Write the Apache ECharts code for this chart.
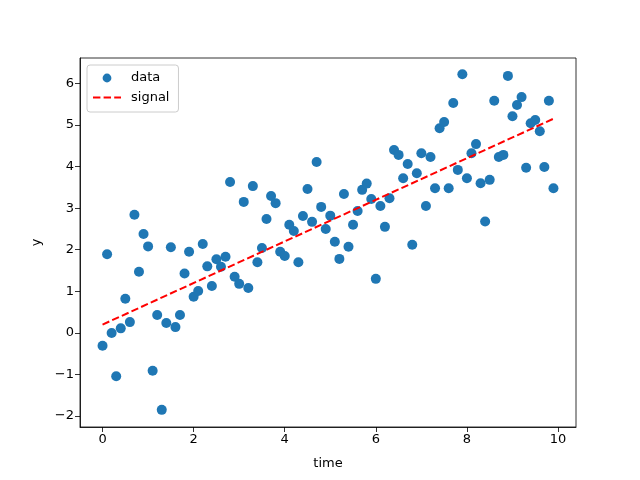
<!DOCTYPE html>
<html>
<head>
<meta charset="utf-8">
<script src="https://cdn.jsdelivr.net/npm/echarts@6/dist/echarts.min.js"></script>
<style>html,body{margin:0;padding:0;background:#fff}#c{width:640px;height:480px}</style>
</head>
<body>
<div id="c"></div>
<script>
const time = [0.0,0.1,0.2,0.3,0.4,0.5,0.6,0.7,0.8,0.9,1.0,1.1,1.2,1.3,1.4,1.5,1.6,1.7,1.8,1.9,
2.0,2.1,2.2,2.3,2.4,2.5,2.6,2.7,2.8,2.9,3.0,3.1,3.2,3.3,3.4,3.5,3.6,3.7,3.8,3.9,
4.0,4.1,4.2,4.3,4.4,4.5,4.6,4.7,4.8,4.9,5.0,5.1,5.2,5.3,5.4,5.5,5.6,5.7,5.8,5.9,
6.0,6.1,6.2,6.3,6.4,6.5,6.6,6.7,6.8,6.9,7.0,7.1,7.2,7.3,7.4,7.5,7.6,7.7,7.8,7.9,
8.0,8.1,8.2,8.3,8.4,8.5,8.6,8.7,8.8,8.9,9.0,9.1,9.2,9.3,9.4,9.5,9.6,9.7,9.8,9.9];
const dataY = [-0.31,1.89,0.0,-1.04,0.11,0.82,0.26,2.84,1.47,2.38,
2.08,-0.91,0.43,-1.85,0.24,2.06,0.14,0.43,1.43,1.95,
0.87,1.01,2.14,1.6,1.13,1.77,1.59,1.83,3.63,1.35,
1.18,3.15,1.08,3.53,1.7,2.04,2.74,3.29,3.12,1.95,
1.85,2.6,2.45,1.7,2.81,3.46,2.67,4.11,3.03,2.5,
2.82,2.19,1.78,3.34,2.07,2.6,2.93,3.44,3.59,3.22,
1.3,3.05,2.55,3.24,4.4,4.28,3.72,4.06,2.12,3.84,
4.32,3.05,4.23,3.48,4.92,5.07,3.48,5.53,3.92,6.22,
3.72,4.32,4.54,3.6,2.68,3.68,5.58,4.23,4.28,6.18,
5.21,5.48,5.67,3.97,5.04,5.12,4.85,3.99,5.58,3.48];
const signalT = [0.0, 9.9];
const signalY = [0.2, 5.15];
const xTicks = [0,2,4,6,8,10];
const yTicks = [-2,-1,0,1,2,3,4,5,6];

const font = 'DejaVu Sans';
const chart = echarts.init(document.getElementById('c'), null, {renderer:'canvas'});
const fmt = v => String(v).replace('-', '\u2212');
const axisCommon = {
  axisLine:{show:true,onZero:false,lineStyle:{color:'#000',width:0.8}},
  axisTick:{show:true,inside:false,length:5,lineStyle:{color:'#000',width:0.8}},
  axisLabel:{color:'#000',fontFamily:font,fontSize:13,margin:6,formatter:fmt},
  splitLine:{show:false},
  nameTextStyle:{color:'#000',fontFamily:font,fontSize:13}
};
const dotIcon = 'path://M0,0Z M28,14Z M9.6,7A4.4,4.4 0 1,0 18.4,7A4.4,4.4 0 1,0 9.6,7Z';
const dashIcon = 'path://M0,6h7.4v2h-7.4z M10.6,6h7.4v2h-7.4z M21.2,6h6.8v2h-6.8z';
chart.setOption({
  animation:false,
  backgroundColor:'#fff',
  grid:{left:80,right:64,top:58,bottom:53,show:true,borderColor:'#000',borderWidth:0.8,backgroundColor:'transparent'},
  xAxis:Object.assign({}, axisCommon, {
    type:'value', min:-0.495, max:10.395, name:'time', nameLocation:'middle', nameGap:30,
    axisTick:Object.assign({}, axisCommon.axisTick, {customValues:xTicks}),
    axisLabel:Object.assign({}, axisCommon.axisLabel, {customValues:xTicks})
  }),
  yAxis:Object.assign({}, axisCommon, {
    type:'value', min:-2.262, max:6.61, name:'y', nameLocation:'middle', nameGap:37,
    axisTick:Object.assign({}, axisCommon.axisTick, {customValues:yTicks}),
    axisLabel:Object.assign({}, axisCommon.axisLabel, {customValues:yTicks})
  }),
  legend:{
    left:87, top:65, orient:'vertical', itemGap:6, itemWidth:28, itemHeight:14,
    padding:[6,9,8,6], symbolKeepAspect:true,
    borderColor:'#ccc', borderWidth:1, borderRadius:3, backgroundColor:'rgba(255,255,255,0.8)',
    textStyle:{color:'#000',fontFamily:font,fontSize:13,padding:[0,0,0,5]},
    data:[{name:'data',icon:dotIcon,itemStyle:{color:'#1f77b4',borderWidth:0}},
          {name:'signal',icon:dashIcon,itemStyle:{color:'#ff0000',borderWidth:0}}]
  },
  series:[
    {name:'data',type:'scatter',symbol:'circle',symbolSize:10,
     itemStyle:{color:'#1f77b4',opacity:1},
     data:time.map((t,i)=>[t,dataY[i]])},
    {name:'signal',type:'line',showSymbol:false,symbol:'none',
     lineStyle:{color:'#ff0000',width:2,type:[7.4,3.2]},itemStyle:{color:'#ff0000'},
     data:signalT.map((t,i)=>[t,signalY[i]])}
  ]
});
</script>
</body>
</html>
